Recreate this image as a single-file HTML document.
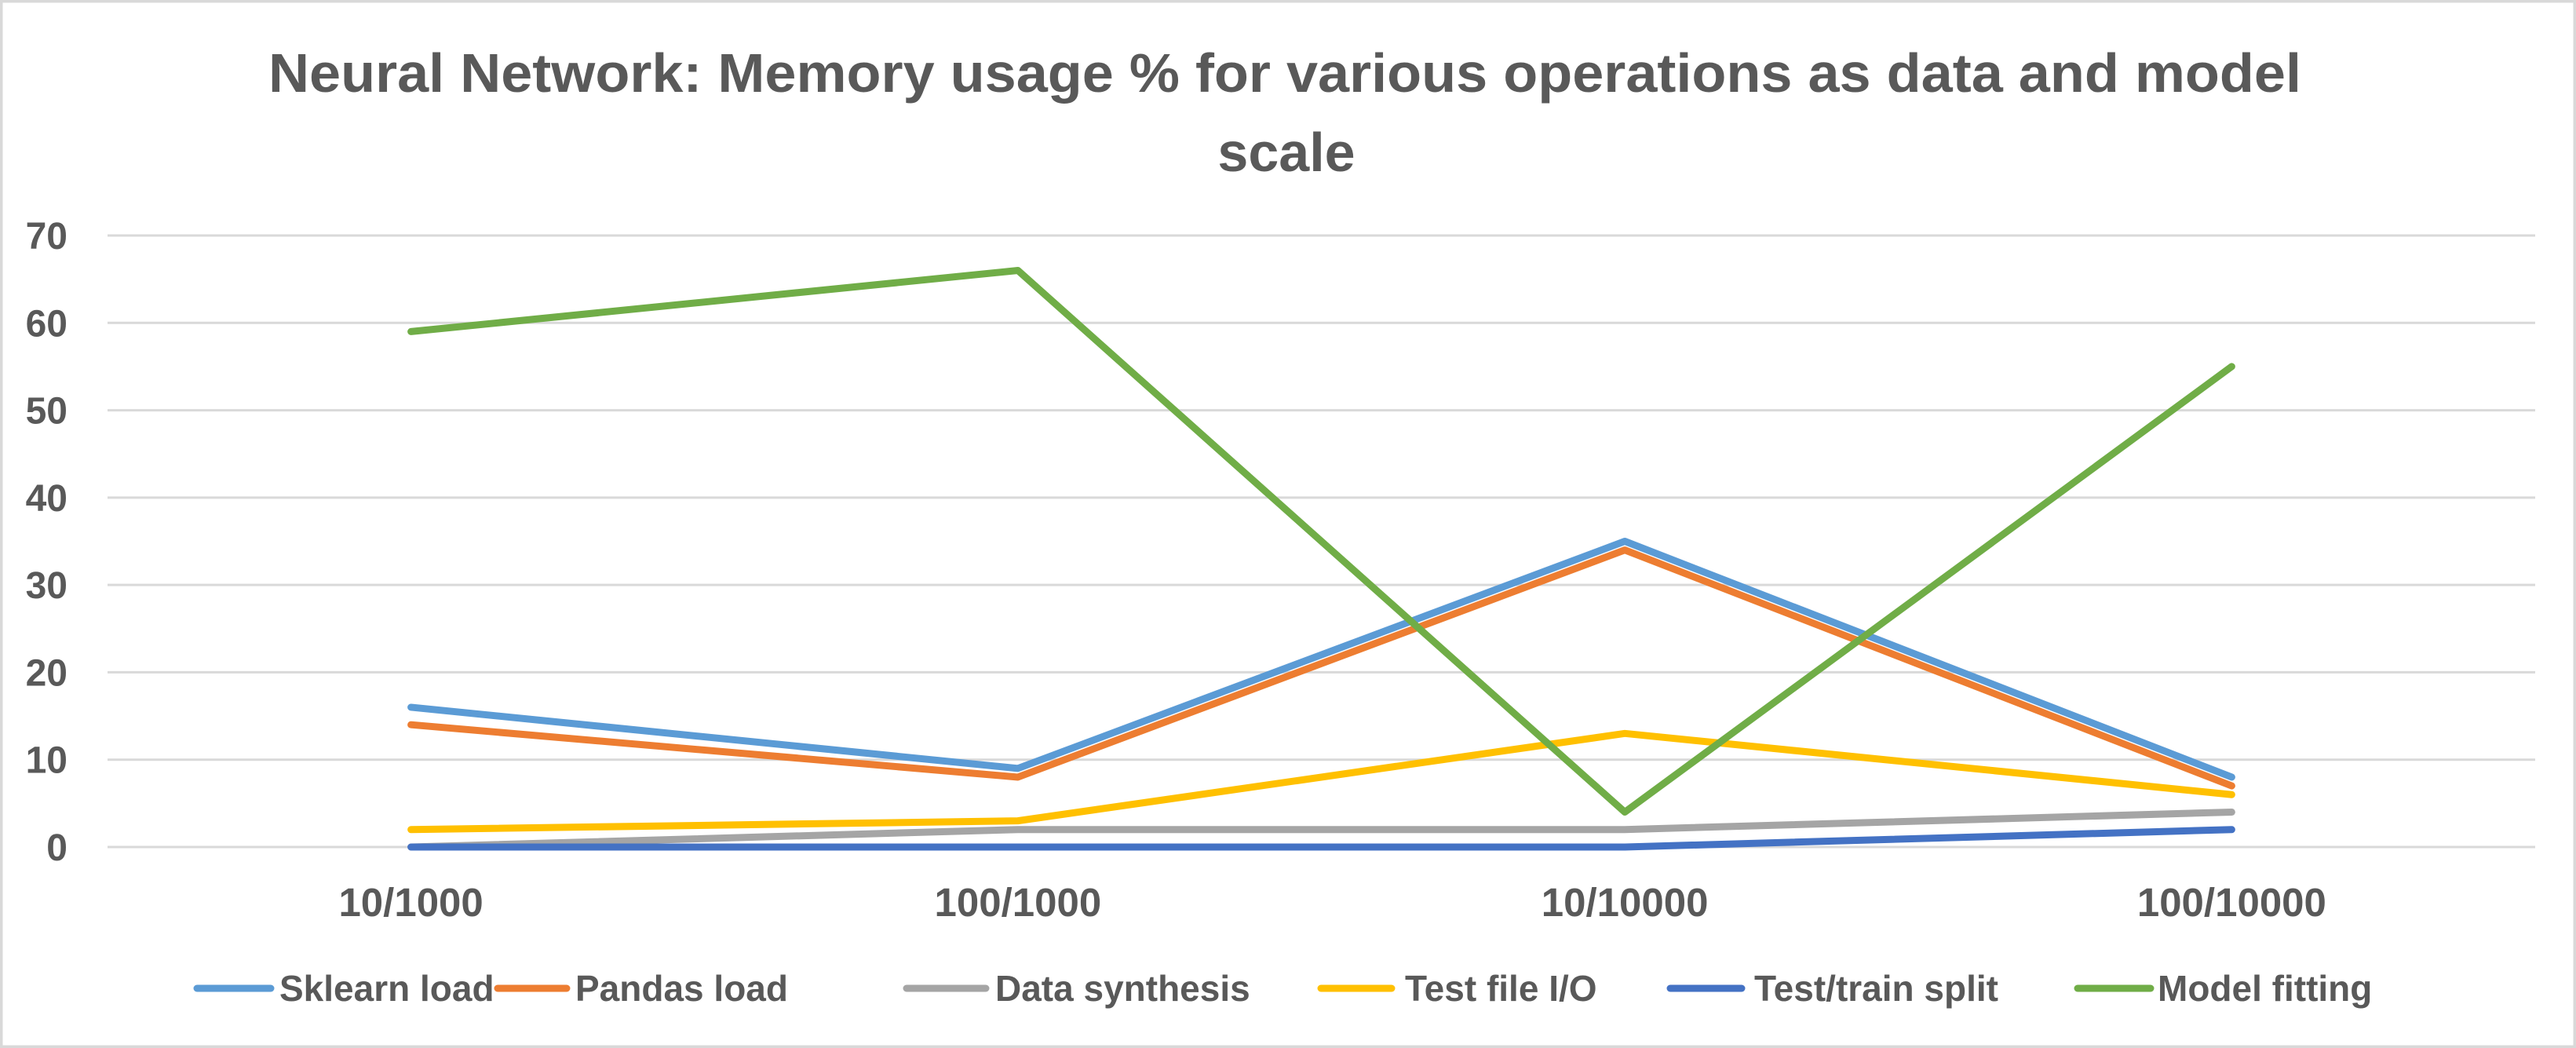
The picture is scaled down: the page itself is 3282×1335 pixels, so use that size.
<!DOCTYPE html>
<html><head><meta charset="utf-8"><style>
html,body{margin:0;padding:0;background:#fff}
svg{display:block}
text{font-family:"Liberation Sans",sans-serif;font-weight:bold;fill:#595959}
</style></head><body>
<svg id="chart" width="3282" height="1335" viewBox="0 0 3282 1335" xmlns="http://www.w3.org/2000/svg">
<rect x="1.5" y="1.5" width="3279" height="1332" fill="#fff" stroke="#d9d9d9" stroke-width="4"/>
<text x="1637" y="117" text-anchor="middle" font-size="70" textLength="2590" lengthAdjust="spacingAndGlyphs">Neural Network: Memory usage % for various operations as data and model</text>
<text x="1639" y="218" text-anchor="middle" font-size="70">scale</text>
<g id="grid"></g>
<g id="yticks"></g>
<g id="xticks"></g>
<g id="series"></g>
<g id="legend"></g>
</svg>
<script>
const categories = ["10/1000","100/1000","10/10000","100/10000"];
const yTicks = [0,10,20,30,40,50,60,70];
const seriesNames = ["Sklearn load","Pandas load","Data synthesis","Test file I/O","Test/train split","Model fitting"];
const sklearnLoad = [16,9,35,8];
const pandasLoad = [14,8,34,7];
const dataSynthesis = [0,2,2,4];
const testFileIO = [2,3,13,6];
const testTrainSplit = [0,0,0,2];
const modelFitting = [59,66,4,55];

const seriesValues = [sklearnLoad,pandasLoad,dataSynthesis,testFileIO,testTrainSplit,modelFitting];
const colors = ["#5b9bd5","#ed7d31","#a5a5a5","#ffc000","#4472c4","#70ad47"];
const slugs = ["sklearn-load","pandas-load","data-synthesis","test-file-io","test-train-split","model-fitting"];
const NS = "http://www.w3.org/2000/svg";
const plotL = 137, plotR = 3230, y0 = 1079, y70 = 300, yMax = 70;
const band = (plotR - plotL) / categories.length;
function xPos(i){ return plotL + band * (i + 0.5); }
function yPos(v){ return y0 - (v / yMax) * (y0 - y70); }
function mk(tag, attrs, parent){ const e = document.createElementNS(NS, tag); for (const k in attrs) e.setAttribute(k, attrs[k]); parent.appendChild(e); return e; }

const grid = document.getElementById('grid');
const yt = document.getElementById('yticks');
yTicks.forEach(t => {
  const l = mk('line', {x1:plotL, x2:plotR, y1:yPos(t), y2:yPos(t), stroke:'#d9d9d9', 'stroke-width':3}, grid);
  
  
  const tx = mk('text', {x:86, y:yPos(t) + 17, 'text-anchor':'end', 'font-size':48}, yt);
  tx.textContent = t;
  
  
});
const xt = document.getElementById('xticks');
categories.forEach((c, i) => {
  const tx = mk('text', {x:xPos(i), y:1167, 'text-anchor':'middle', 'font-size':51}, xt);
  tx.textContent = c;
  
  
});
const sg = document.getElementById('series');
seriesValues.forEach((vals, s) => {
  const pts = vals.map((v, i) => xPos(i) + ',' + yPos(v)).join(' ');
  const p = mk('polyline', {points:pts, fill:'none', stroke:colors[s], 'stroke-width':9, 'stroke-linecap':'round', 'stroke-linejoin':'round'}, sg);
  
  
});
const legX = [[251,345,356],[634,722,733],[1155,1256,1268],[1683,1773,1790],[2128,2219,2235],[2647,2740,2749]];
const lg = document.getElementById('legend');
seriesNames.forEach((n, s) => {
  const g = mk('g', {}, lg);
  
  
  mk('line', {x1:legX[s][0], x2:legX[s][1], y1:1259, y2:1259, stroke:colors[s], 'stroke-width':9, 'stroke-linecap':'round'}, g);
  const tx = mk('text', {x:legX[s][2], y:1275, 'font-size':46}, g);
  tx.textContent = n;
});
</script>
</body></html>
